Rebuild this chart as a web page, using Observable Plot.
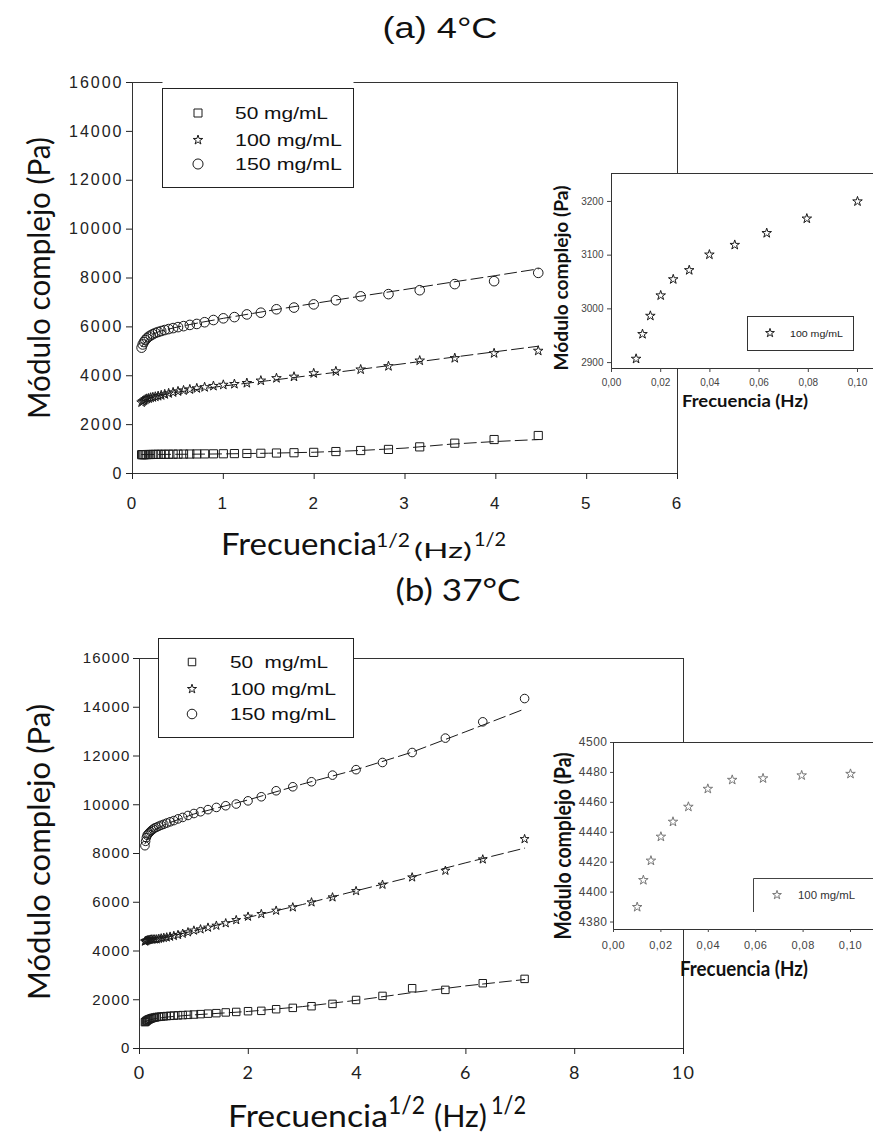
<!DOCTYPE html>
<html><head><meta charset="utf-8">
<script src="https://cdn.jsdelivr.net/npm/d3@7"></script>
<script src="https://cdn.jsdelivr.net/npm/@observablehq/plot@0.6"></script>
<style>
html,body{margin:0;padding:0;background:#fff;overflow:hidden}
#root{position:relative;width:873px;height:1136px;overflow:hidden;background:#fff}
</style></head><body><div id="root"></div>
<script>
// ---------- data ----------
const seriesA = ["50 mg/mL", "100 mg/mL", "150 mg/mL"];
const seriesB = ["50  mg/mL", "100 mg/mL", "150 mg/mL"];
const insetSeries = "100 mg/mL";

// sqrt(frequency), (Hz)^1/2
const sqrtFreqA = [0.100,0.112,0.126,0.141,0.158,0.178,0.200,0.224,0.251,0.282,0.316,0.355,0.398,0.447,0.501,0.562,0.631,0.708,0.794,0.891,1.000,1.122,1.259,1.413,1.585,1.778,1.995,2.239,2.512,2.818,3.162,3.548,3.981,4.467];
const g50A  = [770,770,772,774,775,777,778,780,782,784,785,787,789,791,793,795,797,800,802,805,808,814,820,828,838,850,865,898,940,985,1090,1240,1390,1555];
const g100A = [2907,2953,2987,3025,3055,3072,3101,3119,3141,3168,3200,3240,3280,3320,3360,3400,3440,3485,3530,3580,3628,3660,3700,3800,3900,3960,4100,4180,4255,4390,4620,4720,4920,5020];
const g150A = [5150,5280,5380,5460,5530,5600,5650,5700,5750,5790,5830,5870,5910,5950,5990,6030,6080,6120,6190,6280,6350,6400,6510,6580,6720,6790,6920,7090,7250,7340,7500,7750,7870,8210];
const fitXA  = [0.1,0.2,0.3,0.5,0.75,1,1.5,2,2.5,3,3.5,4,4.47];
const fit50A  = [775,778,781,786,793,802,830,870,940,1040,1200,1310,1390];
const fit100A = [2950,3110,3200,3330,3460,3580,3800,4030,4260,4500,4745,4985,5210];
const fit150A = [5200,5660,5820,6000,6180,6350,6660,6960,7250,7530,7820,8100,8375];

const sqrtFreqB = [0.100,0.112,0.126,0.141,0.158,0.178,0.200,0.224,0.251,0.282,0.316,0.355,0.398,0.447,0.501,0.562,0.631,0.708,0.794,0.891,1.000,1.122,1.259,1.413,1.585,1.778,1.995,2.239,2.512,2.818,3.162,3.548,3.981,4.467,5.012,5.623,6.310,7.079];
const g50B  = [1080,1100,1130,1150,1180,1200,1220,1240,1260,1270,1290,1300,1310,1320,1330,1340,1350,1360,1370,1380,1393,1410,1430,1450,1480,1500,1530,1545,1612,1667,1735,1830,1990,2158,2473,2405,2678,2856];
const g100B = [4390,4408,4421,4437,4447,4457,4469,4475,4476,4478,4479,4500,4520,4540,4560,4590,4620,4660,4710,4770,4840,4890,4960,5040,5140,5270,5410,5519,5656,5792,5997,6202,6460,6721,7022,7295,7759,8593];
const g150B = [8320,8500,8650,8750,8800,8850,8900,8950,9000,9050,9080,9120,9160,9200,9250,9300,9350,9420,9480,9560,9640,9713,9800,9890,9960,10030,10160,10328,10574,10738,10943,11215,11440,11734,12143,12734,13402,14357];
const fitXB  = [0.1,0.2,0.3,0.5,1,2,3,4,5,6,7.08];
const fit50B  = [1100,1180,1230,1290,1380,1520,1720,1980,2290,2570,2830];
const fit100B = [4400,4440,4480,4560,4830,5380,5910,6480,7040,7620,8220];
const fit150B = [8400,8800,9000,9220,9620,10200,10850,11450,12150,13000,13930];

// insets: frequency (Hz) vs complex modulus, 100 mg/mL
const insetFreq = [0.01,0.0126,0.0158,0.02,0.0251,0.0316,0.0398,0.0501,0.0631,0.0794,0.1];
const insetA = [2907,2953,2987,3025,3055,3072,3101,3119,3141,3168,3200];
const insetB = [4390,4408,4421,4437,4447,4457,4469,4475,4476,4478,4479];

// ticks
const yTicksMain = [0,2000,4000,6000,8000,10000,12000,14000,16000];
const xTicksA = [0,1,2,3,4,5,6];
const xTicksB = [0,2,4,6,8,10];
const insetXTicks = [0,0.02,0.04,0.06,0.08,0.10];
const insetATicks = [2900,3000,3100,3200];
const insetBTicks = [4380,4400,4420,4440,4460,4480,4500];

// ---------- helpers ----------
const root = document.getElementById("root");
const pts = (xs, ys) => xs.map((x, i) => ({x, y: ys[i]}));
function place(el, left, top) {
  el.style.position = "absolute";
  el.style.left = left + "px";
  el.style.top = top + "px";
  root.appendChild(el);
}
const ARIAL = "'Liberation Sans', Arial, Helvetica, sans-serif";
const CALIBRI = "Lato, 'Open Sans', sans-serif";
const commaFmt = d => d3.format(".2f")(d).replace(".", ",");

function mainPlot(o) {
  const ink = "#1a1a1a";
  const dash = {stroke: ink, strokeWidth: 1, strokeDasharray: "12,5"};
  const dot = {stroke: ink, strokeWidth: 1, fill: "none"};
  return Plot.plot({
    width: 700, height: 460,
    marginLeft: o.ml, marginTop: o.mt, marginRight: o.mr, marginBottom: o.mb,
    x: {domain: [0, o.xMax]},
    y: {domain: [0, 16000]},
    style: {background: "transparent", overflow: "visible", fontFamily: ARIAL, color: "#222", letterSpacing: o.ls},
    marks: [
      Plot.frame({stroke: "#333", strokeWidth: 1}),
      Plot.axisY({ticks: yTicksMain, tickSize: 6, tickPadding: 3, tickFormat: d => String(d), fontSize: o.yFont, label: null}),
      Plot.axisX({ticks: o.xTicks, tickSize: 6, tickPadding: o.xPad, tickFormat: d => String(d), fontSize: o.xFont, fontFamily: o.xFamily, label: null}),
      Plot.line(pts(o.fx, o.f50), {x: "x", y: "y", ...dash}),
      Plot.line(pts(o.fx, o.f100), {x: "x", y: "y", ...dash}),
      Plot.line(pts(o.fx, o.f150), {x: "x", y: "y", ...dash}),
      Plot.dot(pts(o.xs, o.s50), {x: "x", y: "y", symbol: "square", r: o.rs, ...dot}),
      Plot.dot(pts(o.xs, o.s100), {x: "x", y: "y", symbol: "star", r: o.rst, ...dot}),
      Plot.dot(pts(o.xs, o.s150), {x: "x", y: "y", symbol: "circle", r: o.rc, ...dot})
    ]
  });
}

function insetPlot(o) {
  return Plot.plot({
    width: 340, height: o.h,
    marginLeft: o.ml, marginTop: o.mt, marginRight: 0, marginBottom: o.mb,
    x: {domain: [0, o.xMax]},
    y: {domain: o.yDomain},
    style: {background: "transparent", overflow: "visible", fontFamily: ARIAL, color: "#444", letterSpacing: o.ls},
    marks: [
      Plot.frame({fill: "white", stroke: "#333", strokeWidth: 1}),
      Plot.axisY({ticks: o.yTicks, tickSize: o.ts, tickPadding: o.yPad, tickFormat: d => String(d), fontSize: o.font, label: null}),
      Plot.axisX({ticks: insetXTicks, tickSize: o.ts, tickPadding: o.xPad, tickFormat: commaFmt, fontSize: o.xfont, label: null}),
      Plot.dot(pts(insetFreq, o.ys), {x: "x", y: "y", symbol: "star", r: o.r, stroke: o.color, strokeWidth: 1, fill: "none"})
    ]
  });
}

// ---------- main plots ----------
place(mainPlot({
  xs: sqrtFreqA, s50: g50A, s100: g100A, s150: g150A,
  fx: fitXA, f50: fit50A, f100: fit100A, f150: fit150A,
  xTicks: xTicksA, xMax: 6, ml: 132, mt: 22, mr: 23, mb: 47,
  yFont: 16, xFont: 17, xFamily: ARIAL, xPad: 17, ls: "2px",
  rs: 4.6, rst: 3.0, rc: 4.8
}), 0, 60);

place(mainPlot({
  xs: sqrtFreqB, s50: g50B, s100: g100B, s150: g150B,
  fx: fitXB, f50: fit50B, f100: fit100B, f150: fit150B,
  xTicks: xTicksB, xMax: 10, ml: 139, mt: 18, mr: 17, mb: 52,
  yFont: 15, xFont: 18, xFamily: CALIBRI, xPad: 12, ls: "1.2px",
  rs: 4.2, rst: 2.8, rc: 4.3
}), 0, 640);

// ---------- insets ----------
place(insetPlot({
  h: 240, ml: 71, mt: 13, mb: 32, xMax: 0.10935, yDomain: [2889, 3252],
  yTicks: insetATicks, ys: insetA, ts: 4, yPad: 4, xPad: 6, font: 10, xfont: 10, ls: "0px",
  r: 3.0, color: "#1a1a1a"
}), 540, 160);

place(insetPlot({
  h: 230, ml: 73, mt: 12, mb: 31, xMax: 0.11266, yDomain: [4375, 4500],
  yTicks: insetBTicks, ys: insetB, ts: 3, yPad: 3, xPad: 9, font: 12, xfont: 11, ls: "0.5px",
  r: 3.0, color: "#777"
}), 540, 730);

// ---------- overlay: titles, axis titles, legends ----------
const ov = d3.create("svg").attr("width", 873).attr("height", 1136)
  .style("position", "absolute").style("left", "0px").style("top", "0px").style("pointer-events", "none");

function txt(x, y, s, o = {}) {
  const t = ov.append("text").attr("x", x).attr("y", y).text(s)
    .attr("font-family", o.family || CALIBRI).attr("font-size", o.size || 16)
    .attr("fill", o.fill || "#111").attr("text-anchor", o.anchor || "start")
    .style("white-space", "pre");
  if (o.weight) t.attr("font-weight", o.weight);
  if (o.len) t.attr("textLength", o.len).attr("lengthAdjust", "spacingAndGlyphs");
  if (o.rotate) t.attr("transform", `rotate(-90,${x},${y})`);
  return t;
}
function sym(type, x, y, size, color) {
  ov.append("path").attr("d", d3.symbol().type(type).size(size)())
    .attr("transform", `translate(${x},${y})`)
    .attr("fill", "none").attr("stroke", color || "#1a1a1a").attr("stroke-width", 1);
}

// titles
txt(440, 38, "(a) 4°C", {family: ARIAL, size: 30, anchor: "middle", len: 115});
txt(458, 601, "(b) 37°C", {family: CALIBRI, size: 30, anchor: "middle", len: 125});

// main y titles
txt(50, 278, "Módulo complejo (Pa)", {size: 30, anchor: "middle", rotate: true, len: 282});
txt(50, 852, "Módulo complejo (Pa)", {size: 30, anchor: "middle", rotate: true, len: 296});

// main x titles
txt(221, 555, "Frecuencia", {size: 30, len: 156});
txt(376, 547, "1/2", {size: 20, len: 34});
txt(414, 558, "(Hz)", {size: 22, len: 58});
txt(474, 546, "1/2", {size: 20, len: 32});

txt(228, 1127, "Frecuencia", {size: 31, len: 160});
txt(388, 1114, "1/2", {size: 25, len: 37});
txt(434, 1127, "(Hz)", {size: 31, len: 53});
txt(491, 1114, "1/2", {size: 25, len: 35});

// inset titles
txt(568, 278, "Módulo complejo (Pa)", {size: 19, weight: "bold", anchor: "middle", rotate: true, len: 185});
txt(682, 407, "Frecuencia (Hz)", {size: 17, weight: "bold", len: 126});
txt(571, 846, "Módulo complejo (Pa)", {size: 22, weight: "bold", anchor: "middle", rotate: true, len: 187});
txt(680, 976, "Frecuencia (Hz)", {size: 20, weight: "bold", len: 128});

// legend (a)
ov.append("rect").attr("x", 162.5).attr("y", 77).attr("width", 191).attr("height", 12).attr("fill", "white");
ov.append("rect").attr("x", 162.5).attr("y", 88.5).attr("width", 191).attr("height", 99).attr("fill", "white").attr("stroke", "#222");
const legA = [[d3.symbolSquare, 64, 113], [d3.symbolStar, 28, 140], [d3.symbolCircle, 80, 164]];
legA.forEach(([t, s, y], i) => {
  sym(t, 198, y, s);
  txt(235, y + 6, seriesA[i], {family: ARIAL, size: 17, fill: "#111", len: i === 0 ? 93 : 107});
});

// legend (b)
ov.append("rect").attr("x", 158.5).attr("y", 638.5).attr("width", 195).attr("height", 99).attr("fill", "white").attr("stroke", "#222");
const legB = [[d3.symbolSquare, 56, 662], [d3.symbolStar, 26, 689], [d3.symbolCircle, 72, 714]];
legB.forEach(([t, s, y], i) => {
  sym(t, 192, y, s);
  txt(230, y + 6, seriesB[i], {family: ARIAL, size: 17, fill: "#111", len: i === 0 ? 98 : 106});
});

// inset legends
ov.append("rect").attr("x", 747.5).attr("y", 316.5).attr("width", 106).attr("height", 34).attr("fill", "white").attr("stroke", "#333");
sym(d3.symbolStar, 770, 333, 24);
txt(790, 337, insetSeries, {family: ARIAL, size: 9.5, fill: "#222", len: 53});

ov.append("rect").attr("x", 753).attr("y", 878).attr("width", 130).attr("height", 34).attr("fill", "white");
ov.append("path").attr("d", "M753.5,912V878.5H880").attr("fill", "none").attr("stroke", "#444");
sym(d3.symbolStar, 777, 895, 24, "#777");
txt(798, 899, insetSeries, {family: ARIAL, size: 10, fill: "#333", len: 57});

root.appendChild(ov.node());
</script></body></html>
